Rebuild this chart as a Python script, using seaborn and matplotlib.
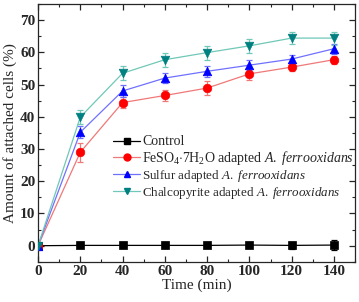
import numpy as np
import pandas as pd
import seaborn as sns
import matplotlib.pyplot as plt
from matplotlib.lines import Line2D
from matplotlib.ticker import MultipleLocator

sns.set_style('ticks')
plt.rcParams['font.family'] = ['Liberation Serif', 'DejaVu Serif']
plt.rcParams['mathtext.fontset'] = 'custom'
plt.rcParams['mathtext.rm'] = 'Liberation Serif'
plt.rcParams['mathtext.it'] = 'Liberation Serif:italic'

# Data
time = [0, 20, 40, 60, 80, 100, 120, 140]
control = [0, 0.1, 0.1, 0.1, 0.1, 0.2, 0.1, 0.2]
control_err = [0, 0.9, 0.9, 0.9, 0.9, 1.0, 1.0, 1.5]
feso4 = [0, 29.0, 44.4, 46.6, 48.9, 53.3, 55.4, 57.7]
feso4_err = [0, 3.0, 1.8, 1.8, 2.2, 2.0, 1.2, 1.3]
sulfur = [0, 35.2, 48.0, 52.0, 54.1, 56.0, 57.9, 61.1]
sulfur_err = [0, 1.8, 1.8, 1.5, 1.7, 1.5, 1.2, 1.5]
chalco = [0, 39.9, 53.5, 57.7, 59.9, 62.0, 64.4, 64.4]
chalco_err = [0, 2.2, 2.2, 2.2, 2.2, 2.2, 1.8, 2.0]

labels = ['Control',
          r'FeSO$_4$$\cdot$7H$_2$O adapted $A.\ ferrooxidans$',
          r'Sulfur adapted $A.\ ferrooxidans$',
          r'Chalcopyrite adapted $A.\ ferrooxidans$']

series = [
    (control, control_err, 's', '#000000', '#000000'),
    (feso4, feso4_err, 'o', '#ff0000', '#f07878'),
    (sulfur, sulfur_err, '^', '#0000ff', '#7070ff'),
    (chalco, chalco_err, 'v', '#008080', '#70c8b8'),
]

fig = plt.figure(figsize=(3.59, 3.02), dpi=100)
ax = fig.add_axes([0.106, 0.133, 0.883, 0.854])

handles = []
for (vals, err, mk, mcol, lcol), lab in zip(series, labels):
    df = pd.DataFrame({'t': time, 'v': vals})
    ax.errorbar(time, vals, yerr=err, fmt='none', ecolor=lcol, elinewidth=0.9,
                capsize=2.2, capthick=0.9, zorder=2)
    sns.lineplot(data=df, x='t', y='v', ax=ax, color=lcol, linewidth=0.9, zorder=2)
    sns.scatterplot(data=df, x='t', y='v', ax=ax, marker=mk, color=mcol,
                    s=38 if mk != 's' else 26, edgecolor=mcol, linewidth=0.5, zorder=3)
    handles.append(Line2D([], [], color=lcol, marker=mk, markerfacecolor=mcol,
                          markeredgecolor=mcol, markersize=5 if mk != 's' else 4.5,
                          linewidth=0.9))

ax.set_xlim(0, 150)
ax.set_ylim(-5, 75)
ax.xaxis.set_major_locator(MultipleLocator(20))
ax.xaxis.set_minor_locator(MultipleLocator(10))
ax.yaxis.set_major_locator(MultipleLocator(10))
ax.yaxis.set_minor_locator(MultipleLocator(5))
ax.tick_params(which='both', direction='in', top=True, right=True,
               labeltop=False, labelright=False)
ax.tick_params(which='major', length=4, width=0.9, labelsize=11, pad=2)
ax.tick_params(which='minor', length=2, width=0.8)
for lab in ax.get_xticklabels() + ax.get_yticklabels():
    lab.set_fontweight('bold')
for sp in ax.spines.values():
    sp.set_linewidth(0.9)

ax.set_xlabel('Time (min)', fontsize=11, labelpad=1)
ax.set_ylabel('Amount of attached cells (%)', fontsize=11, labelpad=2)

leg = ax.legend(handles, labels, loc='upper left', bbox_to_anchor=(0.237, 0.49),
                frameon=False, fontsize=10, handlelength=1.95, handletextpad=0.15,
                labelspacing=0.05, borderaxespad=0, borderpad=0)
for t in leg.get_texts()[2:]:
    t.set_fontsize(9.4)

fig.savefig('out.png', dpi=100)
